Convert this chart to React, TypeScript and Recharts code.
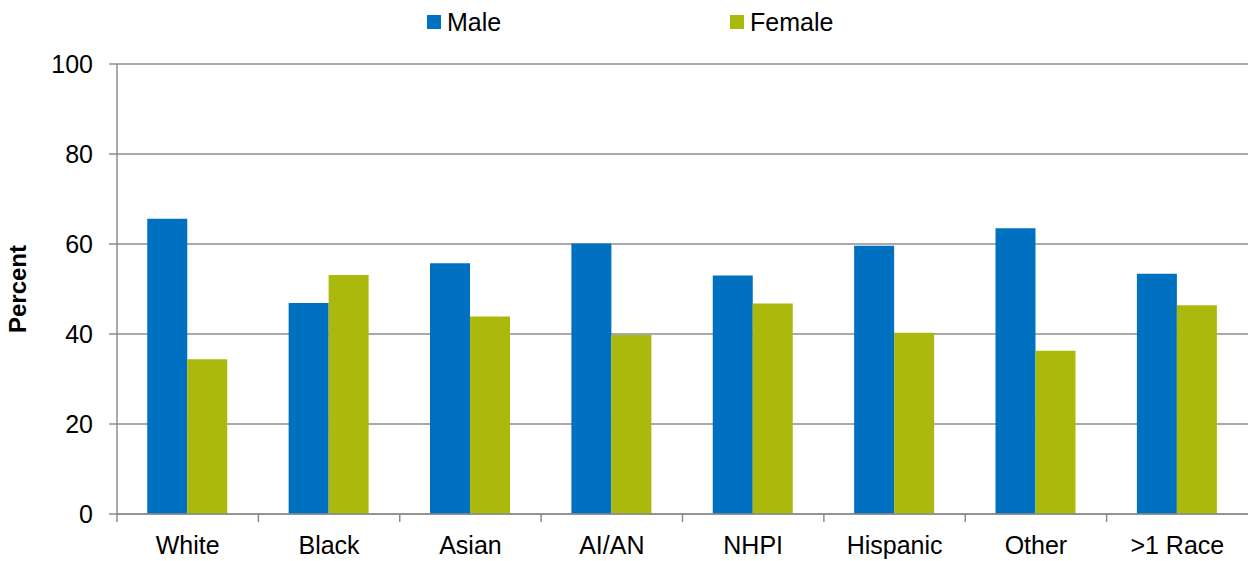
import { Bar, BarChart, CartesianGrid, XAxis, YAxis } from "recharts";

const categories = ["White", "Black", "Asian", "AI/AN", "NHPI", "Hispanic", "Other", ">1 Race"];
const maleValues = [65.6, 46.9, 55.7, 60.1, 53.0, 59.6, 63.5, 53.4];
const femaleValues = [34.4, 53.1, 43.9, 39.8, 46.8, 40.3, 36.3, 46.4];
const yTicks = [0, 20, 40, 60, 80, 100];

const MALE = "#0070c0";
const FEMALE = "#aab90b";
const GRID = "#8c8c8c";
const FONT = "'Liberation Sans', Arial, sans-serif";

const WIDTH = 1248;
const HEIGHT = 561;
const LEFT = 117;
const BAND = (WIDTH - LEFT) / categories.length;

const data = categories.map((name, i) => ({
  name,
  male: maleValues[i],
  female: femaleValues[i],
}));

function CategoryTick(props: { x?: number; y?: number; payload?: { value: string; index: number } }) {
  const { x = 0, y = 0, payload } = props;
  const left = x - BAND / 2;
  return (
    <g>
      <line x1={left} x2={left} y1={y} y2={y + 8} stroke={GRID} strokeWidth={1.5} />
      <text x={x} y={y + 40} textAnchor="middle" fontSize={25} fontFamily={FONT} fill="#000">
        {payload?.value}
      </text>
    </g>
  );
}

// legend drawn over the chart so it does not push the plot down
function TopLegend() {
  const item = (color: string, label: string, left: number) => (
    <div style={{ position: "absolute", left, top: 4, height: 36, display: "flex", alignItems: "center" }}>
      <span style={{ width: 14, height: 14, background: color, display: "inline-block", marginRight: 6 }} />
      <span style={{ fontSize: 25, fontFamily: FONT, color: "#000", lineHeight: "36px" }}>{label}</span>
    </div>
  );
  return (
    <div style={{ position: "absolute", left: 0, top: 0, width: WIDTH, height: 40 }}>
      {item(MALE, "Male", 427)}
      {item(FEMALE, "Female", 730)}
    </div>
  );
}

export default function App() {
  return (
    <div style={{ position: "absolute", left: 0, top: 0, width: WIDTH, height: HEIGHT, background: "#fff" }}>
      <BarChart
        width={WIDTH}
        height={HEIGHT}
        data={data}
        margin={{ top: 64, right: 0, bottom: 17, left: 0 }}
        barCategoryGap="21.4%"
        barGap={0}
      >
        <CartesianGrid vertical={false} stroke={GRID} strokeWidth={1.5} />
        <XAxis
          dataKey="name"
          height={30}
          axisLine={{ stroke: GRID, strokeWidth: 1.5 }}
          tickLine={false}
          tickSize={0}
          tickMargin={0}
          interval={0}
          tick={<CategoryTick />}
        />
        <YAxis
          width={LEFT}
          domain={[0, 100]}
          ticks={yTicks}
          axisLine={{ stroke: GRID, strokeWidth: 1.5 }}
          tickLine={{ stroke: GRID, strokeWidth: 1.5 }}
          tickSize={8}
          tickMargin={16}
          tick={{ fontSize: 25, fontFamily: FONT, fill: "#000" }}
          label={{
            value: "Percent",
            angle: -90,
            position: "insideLeft",
            dx: 12,
            style: { fontSize: 24, fontWeight: "bold", fontFamily: FONT, fill: "#000", textAnchor: "middle" },
          }}
        />
        <Bar dataKey="male" name="Male" fill={MALE} isAnimationActive={false} />
        <Bar dataKey="female" name="Female" fill={FEMALE} isAnimationActive={false} />
      </BarChart>
      <TopLegend />
    </div>
  );
}
